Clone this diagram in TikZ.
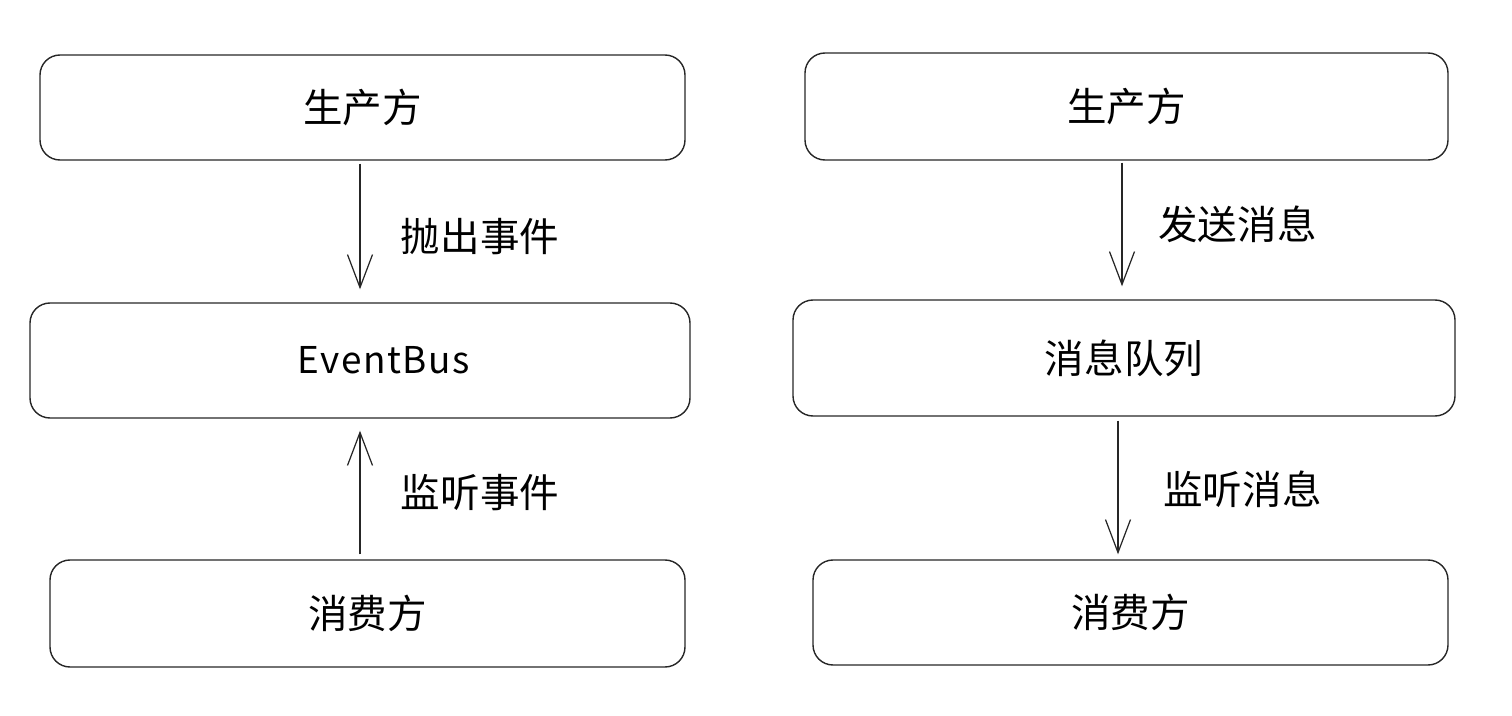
\documentclass[tikz,border=0pt]{standalone}
\usepackage{fontspec}
\newfontfamily\cjk{Noto Sans CJK SC}
\newfontfamily\busfont[LetterSpace=4]{Noto Sans CJK SC}
\usepackage{tikz}
\usetikzlibrary{positioning}
\usetikzlibrary{arrows.meta}

\begin{document}
\begin{tikzpicture}[
        box/.style={draw=black!85,line width=0.8pt,rounded corners=0.4cm,inner sep=0pt,font=\cjk\fontsize{22.5pt}{27pt}\selectfont},
        arr/.style={-{Straight Barb[length=0.66cm,width=0.5cm]},line width=0.7pt,black!85},
        lbl/.style={font=\cjk\fontsize{22.5pt}{27pt}\selectfont}
    ]
        \useasboundingbox (0,0) rectangle (30.24,-14.32);
        % left: EventBus
        \node[box,minimum width=12.9cm,minimum height=2.1cm] (lprod) at (7.25, -2.15) {生产方};
        \node[box,minimum width=13.2cm,minimum height=2.3cm] (lbus) at (7.2, -7.21) {\hspace*{0.95cm}\busfont\fontsize{21pt}{25pt}\selectfont EventBus};
        \node[box,minimum width=12.7cm,minimum height=2.14cm] (lcons) at (7.35, -12.27) {消费方};
        \draw[arr,shorten <=0.06cm,shorten >=0.26cm] (lprod.south -| lbus.center) -- (lbus.north);
        \draw[arr,shorten <=0.1cm,shorten >=0.24cm] (lcons.north -| lbus.center) -- (lbus.south);
        \node[lbl] (throw) at (9.6, -4.74) {抛出事件};
        \node[lbl] (listen) at (9.6, -9.86) {监听事件};
        % right: message queue
        \node[box,minimum width=12.86cm,minimum height=2.14cm] (rprod) at (22.53, -2.13) {生产方};
        \node[box,minimum width=13.24cm,minimum height=2.32cm] (rmq) at (22.48, -7.16) {消息队列};
        \node[box,minimum width=12.7cm,minimum height=2.1cm] (rcons) at (22.61, -12.25) {消费方};
        \draw[arr,shorten <=0.04cm,shorten >=0.26cm] ([xshift=-0.04cm]rprod.south -| rmq.center) -- ([xshift=-0.04cm]rmq.north);
        \draw[arr,shorten <=0.08cm,shorten >=0.1cm] ([xshift=-0.12cm]rmq.south) -- ([xshift=-0.12cm]rmq.south |- rcons.north);
        \node[lbl] (send) at (24.75, -4.48) {发送消息};
        \node[lbl] (recv) at (24.85, -9.78) {监听消息};
    \end{tikzpicture}
\end{document}
